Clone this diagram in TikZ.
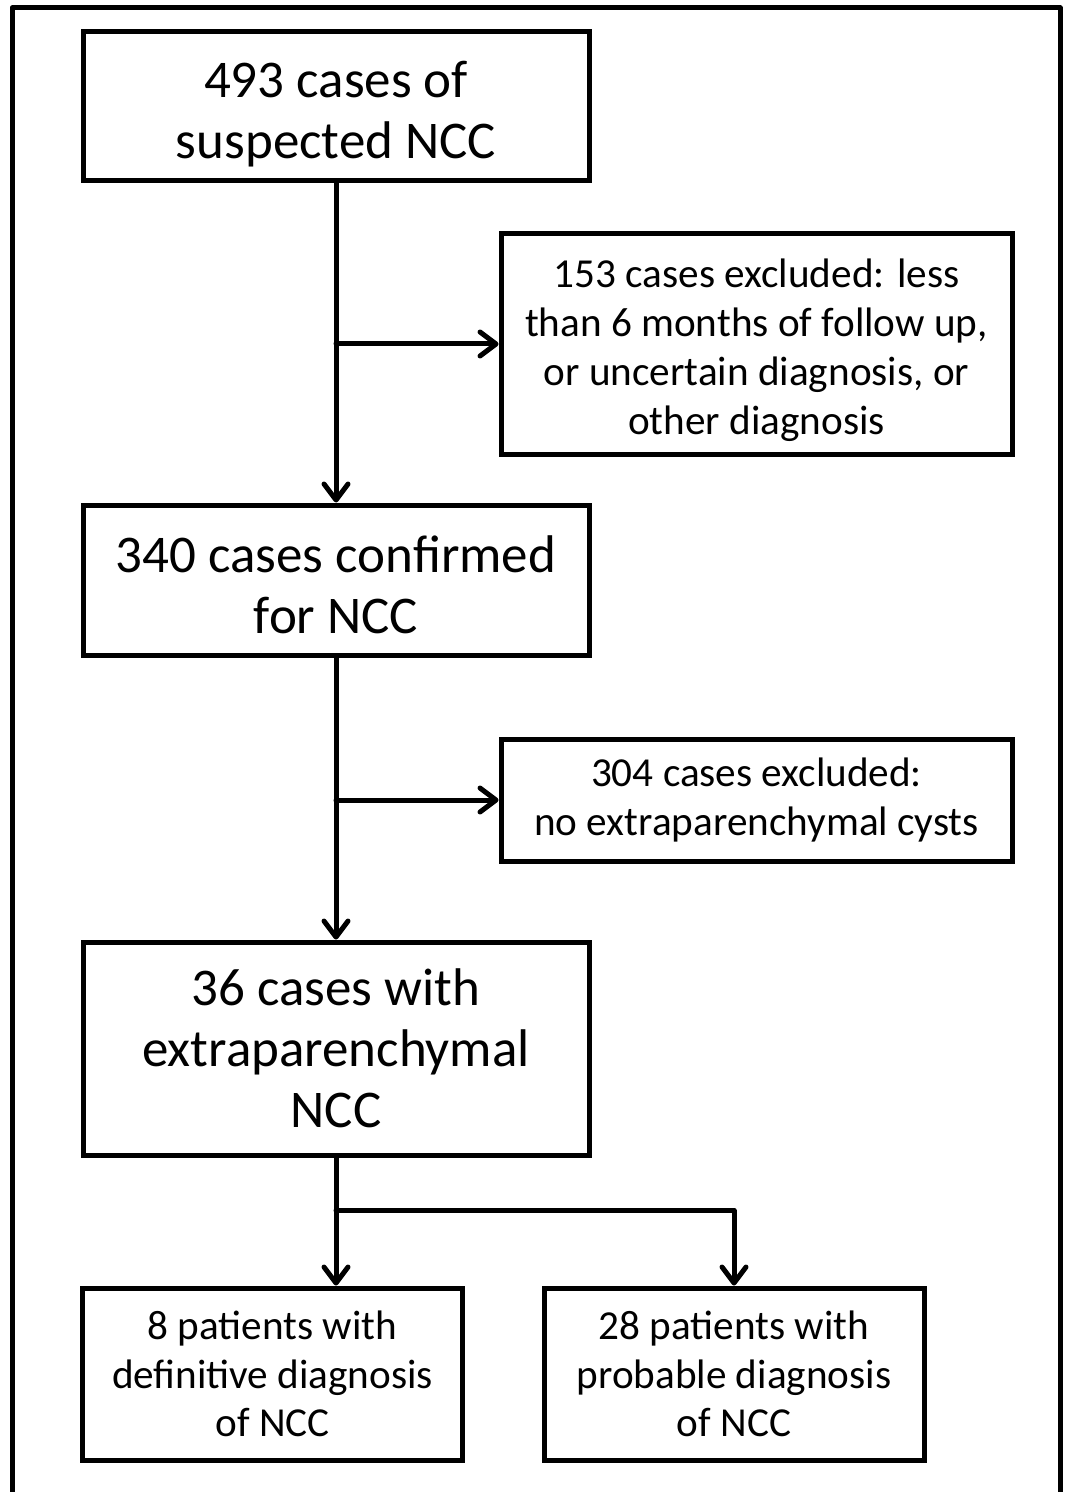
\documentclass[tikz,border=0pt]{standalone}
\usepackage{fontspec}
\setmainfont{Carlito}
\usepackage{tikz}
\usetikzlibrary{positioning,arrows.meta,calc}

\newcommand{\bigtxt}{\fontsize{26.5}{30.5}\selectfont}
\newcommand{\smalltxt}{\fontsize{20.6}{24.4}\selectfont}
\newcommand{\topgap}[1]{\rule{0pt}{#1}}

\tikzset{
  flowbox/.style={draw, line width=2.5pt, inner sep=0pt, align=center,
    minimum width=253pt},
  sidebox/.style={draw, line width=2.5pt, inner sep=0pt, align=center,
    minimum width=255.5pt, font=\smalltxt},
  leafbox/.style={draw, line width=2.5pt, inner sep=0pt, align=center,
    minimum width=190pt, minimum height=86pt, font=\smalltxt},
  flow/.style={line width=2.5pt, line cap=round, line join=round}
}

\begin{document}
\begin{tikzpicture}[
  x=0.5pt, y=-0.5pt,
  >={Straight Barb[length=8pt,width=12pt,line cap=round,line join=round]}
]
\useasboundingbox (0,0) rectangle (1066,1492);

% outer frame (open at the bottom)
\draw[line width=2.5pt, line join=round] (12,1492) -- (12,8) -- (1060,8) -- (1060,1492);

% main column
\node[flowbox, minimum height=74.5pt, font=\bigtxt] (suspected) at (336,106.5)
  {\topgap{26pt}493 cases of\\suspected NCC};
\node[flowbox, minimum height=75pt, font=\bigtxt] (confirmed) at (336,580)
  {\topgap{23pt}340 cases confirmed\\for NCC};
\node[flowbox, minimum height=106.5pt, font=\bigtxt] (extrapar) at (336,1048.5)
  {36 cases with\\extraparenchymal\\NCC};

% exclusions
\node[sidebox, minimum height=110pt] (excl1) at (756.5,344)
  {\topgap{20.5pt}153 cases excluded: less\\than 6 months of follow up,\\or uncertain diagnosis, or\\other diagnosis};
\node[sidebox, minimum height=61pt] (excl2) at (756.5,800)
  {304 cases excluded:\\no extraparenchymal cysts};

% final groups
\node[leafbox] (definite) at (272.5,1374)
  {8 patients with\\definitive diagnosis\\of NCC};
\node[leafbox] (probable) at (734,1374)
  {28 patients with\\probable diagnosis\\of NCC};

% connectors
\draw[flow,->] (suspected.south) -- (confirmed.north);
\draw[flow,->] (suspected.south |- excl1.west) -- (excl1.west);
\draw[flow,->] (confirmed.south) -- (extrapar.north);
\draw[flow,->] (confirmed.south |- excl2.west) -- (excl2.west);

\coordinate (split) at ($(extrapar.south)+(0,53)$);
\draw[flow,->] (extrapar.south) -- (extrapar.south |- definite.north);
\draw[flow,->] (split) -| (probable.north);

\end{tikzpicture}
\end{document}
